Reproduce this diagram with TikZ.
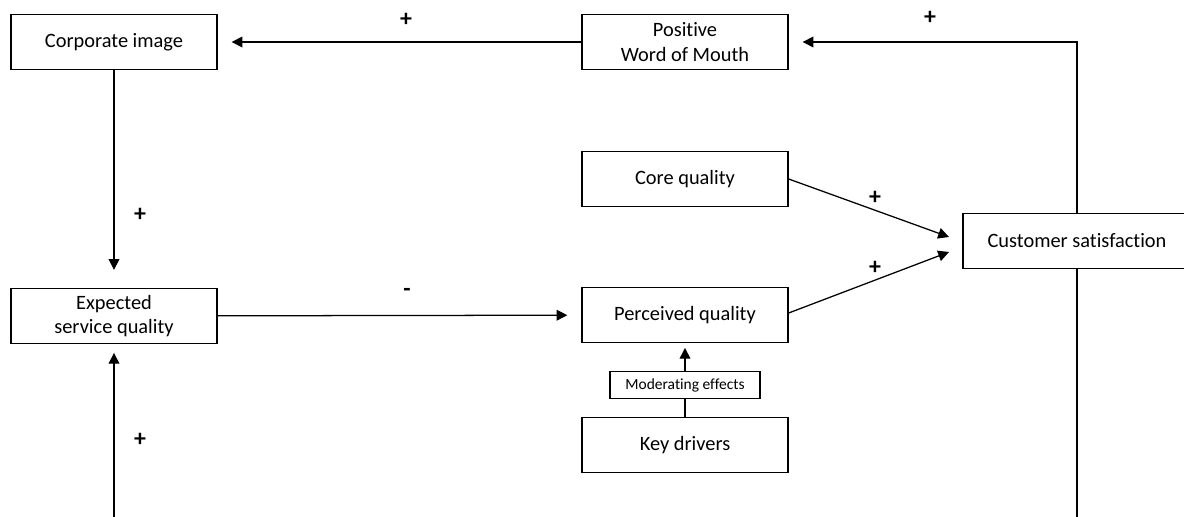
\documentclass[tikz,border=0pt]{standalone}
\usepackage{fontspec}
\setmainfont{Carlito}[Ligatures=NoCommon]
\usetikzlibrary{arrows.meta}

\begin{document}
\begin{tikzpicture}[x=0.025cm, y=-0.025cm,
		box/.style={draw, line width=0.9pt, inner sep=0pt, align=center,
			minimum width=5.15cm, minimum height=1.375cm,
			font=\fontsize{14.5}{17.5}\selectfont},
		smallbox/.style={draw, line width=0.9pt, inner sep=0pt,
			minimum width=3.75cm, minimum height=0.675cm,
			font=\fontsize{11}{13}\selectfont},
		sign/.style={inner sep=0pt, font=\fontsize{17}{17}\selectfont\bfseries},
		link/.style={line width=0.9pt},
		arr/.style={line width=0.9pt, -{Triangle[length=0.27cm, width=0.27cm]}}]
			%%%%% START %%%%%
			
			\useasboundingbox (0, 0) rectangle (1184, 517);
			
			\node[box] (corp) at (114, 42) {Corporate image};
			\node[box] (pwom) at (685, 42) {Positive\\Word of Mouth};
			\node[box] (core) at (685, 179) {Core quality};
			\node[box, minimum width=5.7cm] (cs) at (1077, 241) {Customer satisfaction};
			\node[box] (esq) at (114, 316) {Expected\\service quality};
			\node[box] (perc) at (685, 315) {Perceived quality};
			\node[smallbox] (mod) at (685, 385) {Moderating effects};
			\node[box] (key) at (685, 445) {Key drivers};
			
			\coordinate (csina) at (949, 237);
			\coordinate (csinb) at (949, 252);
			\coordinate (loopcorner) at (1077, 518);
			
			\draw[arr, shorten >=0.35cm] (pwom) -- (corp);
			\draw[arr, shorten >=0.35cm] (cs.north) |- (pwom);
			\draw[arr, shorten >=0.45cm] (corp) -- (esq);
			\draw[arr, shorten >=0.35cm] (esq) -- (perc);
			\draw[arr] (core.east) -- (csina);
			\draw[arr] ([yshift=0.05cm]perc.east) -- (csinb);
			\draw[link] (key) -- (mod);
			\draw[arr, shorten >=0.12cm] (mod) -- (perc);
			\draw[arr, shorten >=0.22cm] (cs.south) -- (loopcorner) -| (esq.south);
			
			\node[sign] (pluswom) at (406, 20) {+};
			\node[sign] (pluscs) at (930, 18) {+};
			\node[sign] (pluscore) at (875, 198) {+};
			\node[sign] (plusperc) at (875, 268) {+};
			\node[sign] (pluscorp) at (140, 215) {+};
			\node[sign] (plusloop) at (140, 440) {+};
			\node[sign] (minus) at (407, 292) {-};
			
			%%%%% END %%%%%
\end{tikzpicture}
\end{document}
